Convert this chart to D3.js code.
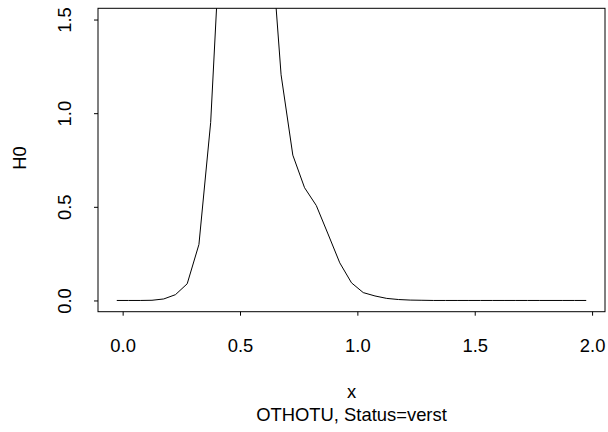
<!DOCTYPE html>
<html>
<head>
<meta charset="utf-8">
<script src="https://cdn.jsdelivr.net/npm/d3@7"></script>
<style>
  html, body { margin: 0; padding: 0; background: #fff; }
  svg { display: block; }
  text { font-family: "Liberation Sans", Arial, Helvetica, sans-serif; fill: #000; }
</style>
</head>
<body>
<svg id="chart" width="608" height="432"></svg>
<script>
// Baseline hazard estimate H0 over x
const xValues = [
  -0.025, 0.025, 0.075, 0.125, 0.175, 0.225, 0.275, 0.325, 0.375, 0.425,
  0.475, 0.525, 0.575, 0.625, 0.675, 0.725, 0.775, 0.825, 0.875, 0.925,
  0.975, 1.025, 1.075, 1.125, 1.175, 1.225, 1.275, 1.325, 1.375, 1.425,
  1.475, 1.525, 1.575, 1.625, 1.675, 1.725, 1.775, 1.825, 1.875, 1.925,
  1.975
];
const h0Values = [
  0, 0, 0, 0.001, 0.008, 0.031, 0.089, 0.299, 0.95, 2.17,
  2.6, 2.8, 2.55, 2.05, 1.205, 0.776, 0.602, 0.507, 0.355, 0.201,
  0.094, 0.042, 0.024, 0.011, 0.005, 0.002, 0.001, 0, 0, 0,
  0, 0, 0, 0, 0, 0, 0, 0, 0, 0,
  0
];
const xTicks = [0, 0.5, 1.0, 1.5, 2.0];
const yTicks = [0, 0.5, 1.0, 1.5];
const xTitle = "x";
const yTitle = "H0";
const subTitle = "OTHOTU, Status=verst";

const plot = { left: 98, right: 605, top: 8.3, bottom: 311.7 };
const fontSize = "18.4px";

const svg = d3.select("#chart");

// axis ranges padded by 4% like the usual plotting default
const xMin = d3.min(xValues), xMax = d3.max(xValues);
const xPad = (xMax - xMin) * 0.04;
const x = d3.scaleLinear()
  .domain([xMin - xPad, xMax + xPad])
  .range([plot.left, plot.right]);

const yLo = 0, yHi = 1.5;
const yPad = (yHi - yLo) * 0.04;
const y = d3.scaleLinear()
  .domain([yLo - yPad, yHi + yPad])
  .range([plot.bottom, plot.top]);

svg.append("defs").append("clipPath").attr("id", "plotClip")
  .append("rect")
  .attr("x", plot.left).attr("y", plot.top)
  .attr("width", plot.right - plot.left)
  .attr("height", plot.bottom - plot.top);

// curve
const data = xValues.map((v, i) => [v, h0Values[i]]);
svg.append("path")
  .datum(data)
  .attr("clip-path", "url(#plotClip)")
  .attr("fill", "none")
  .attr("stroke", "#000")
  .attr("stroke-width", 1)
  .attr("stroke-linejoin", "round")
  .attr("d", d3.line().x(d => x(d[0])).y(d => y(d[1])));

// box
svg.append("rect")
  .attr("x", plot.left).attr("y", plot.top)
  .attr("width", plot.right - plot.left)
  .attr("height", plot.bottom - plot.top)
  .attr("fill", "none")
  .attr("stroke", "#000")
  .attr("stroke-width", 1);

// x axis
const gx = svg.append("g")
  .attr("transform", `translate(0,${plot.bottom})`)
  .call(d3.axisBottom(x).tickValues(xTicks).tickFormat(d3.format(".1f")).tickSize(4));
gx.select(".domain").remove();
gx.selectAll(".tick line").attr("stroke", "#000");
gx.selectAll(".tick text")
  .attr("y", 352 - plot.bottom)
  .attr("dy", null)
  .style("font-size", fontSize)
  .style("font-family", "'Liberation Sans', Arial, sans-serif");

// y axis
const gy = svg.append("g")
  .attr("transform", `translate(${plot.left},0)`)
  .call(d3.axisLeft(y).tickValues(yTicks).tickFormat(d3.format(".1f")).tickSize(4));
gy.select(".domain").remove();
gy.selectAll(".tick line").attr("stroke", "#000");
gy.selectAll(".tick text")
  .attr("x", null).attr("dy", null)
  .attr("text-anchor", "middle")
  .attr("transform", `translate(${71 - plot.left},0) rotate(-90)`)
  .style("font-size", fontSize)
  .style("font-family", "'Liberation Sans', Arial, sans-serif");

// titles
const cx = (plot.left + plot.right) / 2;
svg.append("text")
  .attr("x", cx).attr("y", 398)
  .attr("text-anchor", "middle")
  .style("font-size", fontSize)
  .text(xTitle);
svg.append("text")
  .attr("x", cx).attr("y", 420.5)
  .attr("text-anchor", "middle")
  .style("font-size", fontSize)
  .text(subTitle);
svg.append("text")
  .attr("transform", `translate(25.5,158) rotate(-90)`)
  .attr("text-anchor", "middle")
  .style("font-size", fontSize)
  .text(yTitle);
</script>
</body>
</html>
